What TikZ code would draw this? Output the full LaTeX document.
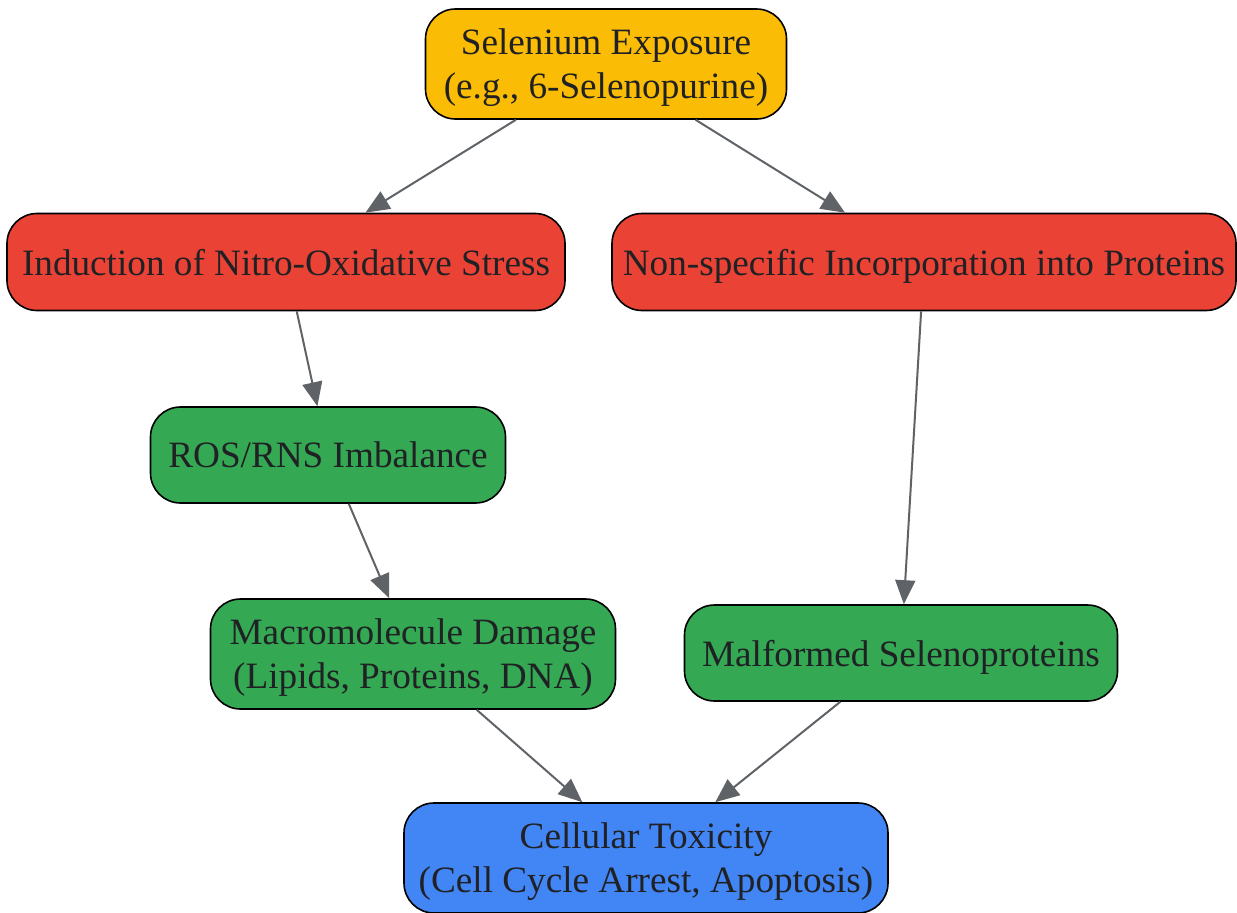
\documentclass[tikz,border=0pt]{standalone}
\usepackage{fontspec}
\setmainfont{Liberation Serif}
\usetikzlibrary{arrows.meta}
\definecolor{cyel}{HTML}{FBBC05}
\definecolor{cred}{HTML}{EA4335}
\definecolor{cgreen}{HTML}{34A853}
\definecolor{cblue}{HTML}{4285F4}
\definecolor{cedge}{HTML}{5F6368}
\definecolor{ctext}{HTML}{202124}
\begin{document}
\begin{tikzpicture}[x=1pt,y=-1pt,
  box/.style={draw=black,line width=1.6pt,rounded corners=30pt,text=ctext,
    font=\fontsize{37.2}{44}\selectfont,align=center,inner sep=0pt,text depth=0pt},
  conn/.style={draw=cedge,line width=2pt,-{Triangle[length=24pt,width=20pt]}}]
\useasboundingbox (0,0) rectangle (1237,913);
\node[box,fill=cyel,minimum width=361pt,minimum height=110pt] (sel) at (606,64) {Selenium Exposure\\(e.g., 6-Selenopurine)};
\node[box,fill=cred,minimum width=558pt,minimum height=97pt] (ind) at (286,262) {Induction of Nitro-Oxidative Stress};
\node[box,fill=cred,minimum width=624pt,minimum height=97pt] (non) at (924,262) {Non-specific Incorporation into Proteins};
\node[box,fill=cgreen,minimum width=355pt,minimum height=96pt] (ros) at (328,455) {ROS/RNS Imbalance};
\node[box,fill=cgreen,minimum width=405pt,minimum height=110pt] (mac) at (413,654) {Macromolecule Damage\\(Lipids, Proteins, DNA)};
\node[box,fill=cgreen,minimum width=433pt,minimum height=96pt] (mal) at (901,653) {Malformed Selenoproteins};
\node[box,fill=cblue,minimum width=484pt,minimum height=110pt] (cel) at (646,858) {Cellular Toxicity\\(Cell Cycle Arrest, Apoptosis)};
\draw[conn] (sel) -- (ind);
\draw[conn] (sel) -- (non);
\draw[conn] (ind) -- (ros);
\draw[conn] (non) -- (mal);
\draw[conn] (ros) -- (mac);
\draw[conn] (mac) -- (cel);
\draw[conn] (mal) -- (cel);
\end{tikzpicture}
\end{document}
